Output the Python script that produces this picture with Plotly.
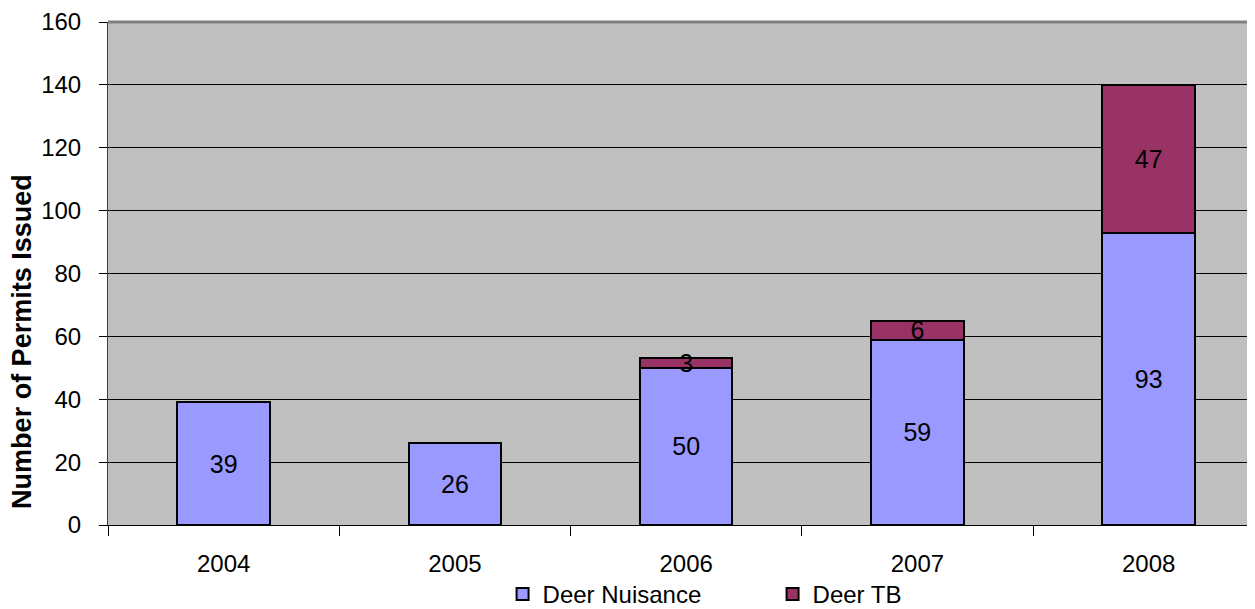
import plotly.graph_objects as go

years = ["2004", "2005", "2006", "2007", "2008"]
nuisance = [39, 26, 50, 59, 93]
tb = [None, None, 3, 6, 47]

fig = go.Figure()
fig.add_trace(go.Bar(name="Deer Nuisance", x=years, y=nuisance, text=nuisance,
                     marker=dict(color="#9999FF", line=dict(color="black", width=2))))
fig.add_trace(go.Bar(name="Deer TB", x=years, y=tb, text=tb,
                     marker=dict(color="#993366", line=dict(color="black", width=2))))

fig.update_traces(textposition="inside", insidetextanchor="middle", textangle=0,
                  textfont=dict(color="black", size=25), cliponaxis=False)

fig.update_layout(
    barmode="stack",
    bargap=0.6,
    width=1247, height=601,
    margin=dict(l=100, r=0, t=14, b=84, autoexpand=False),
    paper_bgcolor="white",
    plot_bgcolor="#C0C0C0",
    font=dict(family="Liberation Sans, Arial", size=24, color="black"),
    uniformtext_minsize=25,
    uniformtext_mode="show",
    legend=dict(orientation="h", x=0.344, xanchor="left", y=-0.138, yanchor="middle",
                entrywidth=225, entrywidthmode="pixels", traceorder="normal",
                font=dict(size=24), itemwidth=30, tracegroupgap=0),
)

fig.update_xaxes(range=[-0.5, 4.46], ticks="outside", tickson="boundaries", ticklen=10,
                 tickcolor="black", ticklabelstandoff=17,
                 showline=True, linecolor="black", linewidth=1, showgrid=False)
fig.update_yaxes(range=[0, 160], dtick=20, ticks="outside", ticklen=8, tickcolor="black",
                 ticklabelstandoff=13,
                 showgrid=True, gridcolor="black", gridwidth=1,
                 showline=True, linecolor="#404040", linewidth=1, zeroline=False)

fig.add_annotation(text="<b>Number of Permits Issued</b>", textangle=-90,
                   xref="paper", yref="paper", x=-0.075, y=0.366,
                   xanchor="center", yanchor="middle", showarrow=False,
                   font=dict(size=27))

fig.add_shape(type="line", xref="paper", yref="paper", x0=0, x1=1, y0=1, y1=1,
              line=dict(color="#808080", width=3))

fig.write_html("out.html")
